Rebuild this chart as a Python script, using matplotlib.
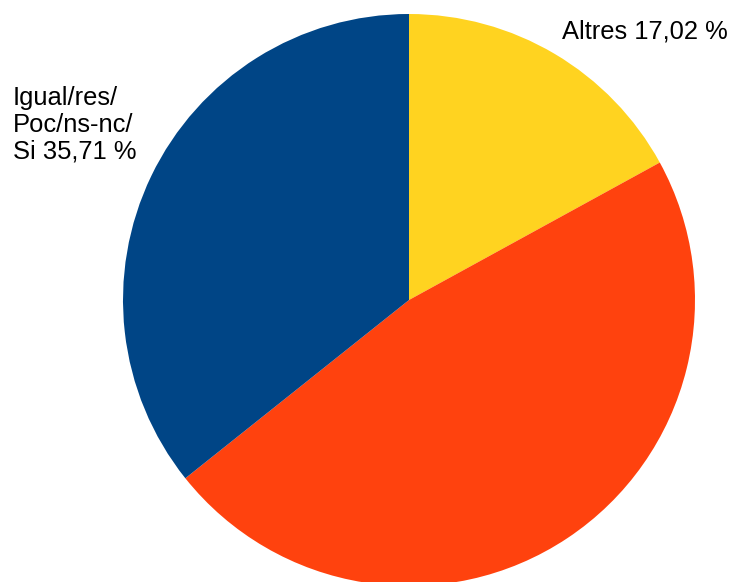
import matplotlib.pyplot as plt

labels = ['Altres', 'No', 'Igual/res/\nPoc/ns-nc/\nSi']
shares = [17.02, 47.27, 35.71]
colors = ['#FFD320', '#FF420E', '#004586']

W, H = 736, 582

plt.rcParams['font.family'] = ['Liberation Sans', 'DejaVu Sans']

fig = plt.figure(figsize=(W / 100, H / 100), dpi=100)
ax = fig.add_axes([0, 0, 1, 1])

# pie centred at (409, 300) px from top-left, radius 286 px
ax.pie(shares, colors=colors, startangle=90, counterclock=False,
       center=(409, H - 300), radius=286, frame=True,
       wedgeprops=dict(linewidth=0))
ax.set_xlim(0, W)
ax.set_ylim(0, H)
ax.set_aspect('equal')
ax.axis('off')

def pct(v):
    return f'{v:.2f}'.replace('.', ',') + ' %'

ax.text(562, H - 38, f'{labels[0]} {pct(shares[0])}', fontsize=18.4,
        ha='left', va='baseline')
ax.text(13, H - 163, f'{labels[2]} {pct(shares[2])}', fontsize=18.4,
        ha='left', va='bottom', linespacing=1.13)

fig.savefig('out.png', dpi=100)
